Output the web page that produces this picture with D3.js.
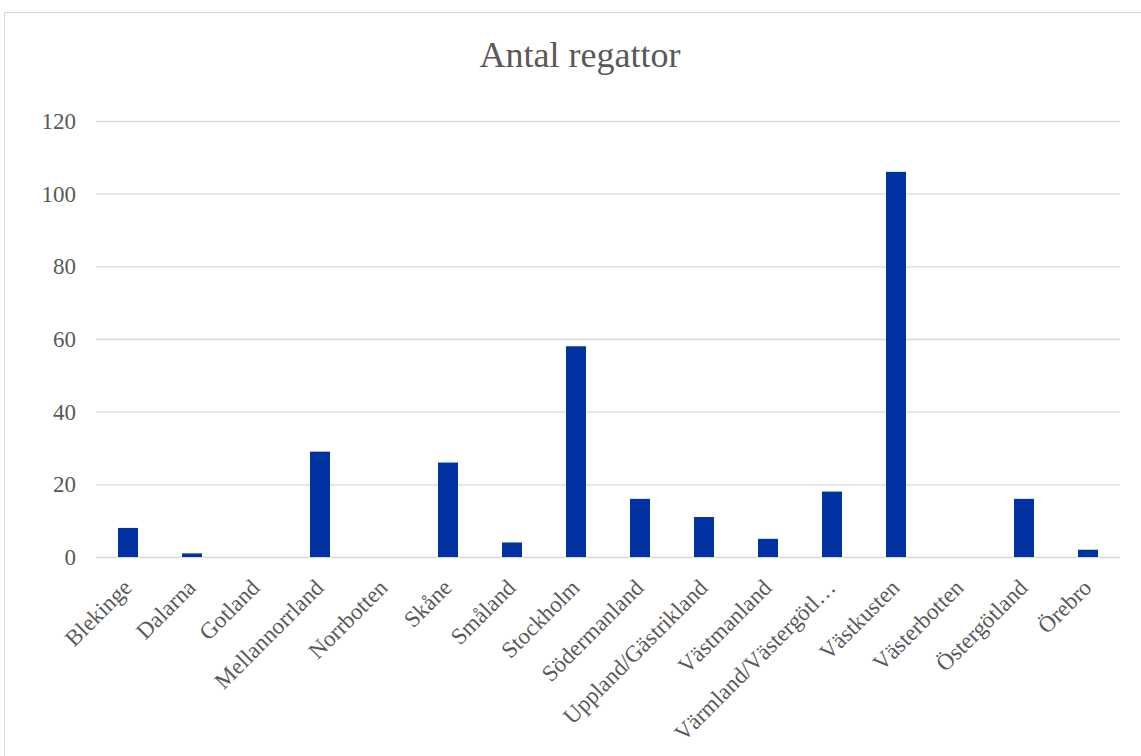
<!DOCTYPE html>
<html>
<head>
<meta charset="utf-8">
<script src="https://cdn.jsdelivr.net/npm/d3@7"></script>
<style>
  html, body { margin: 0; padding: 0; background: #fff; }
  svg { display: block; }
  text { font-family: "Liberation Serif", "Times New Roman", serif; fill: #595959; }
</style>
</head>
<body>
<svg id="chart" width="1141" height="756"></svg>
<script>
// Number of regattas per district
const districts = [
  "Blekinge", "Dalarna", "Gotland", "Mellannorrland", "Norrbotten", "Skåne",
  "Småland", "Stockholm", "Södermanland", "Uppland/Gästrikland", "Västmanland",
  "Värmland/Västergötl…", "Västkusten", "Västerbotten", "Östergötland", "Örebro"
];
const regattas = [8, 1, 0, 29, 0, 26, 4, 58, 16, 11, 5, 18, 106, 0, 16, 2];
const yTicks = [0, 20, 40, 60, 80, 100, 120];
const chartTitle = "Antal regattor";

const svg = d3.select("#chart");
const W = 1141, H = 756;
const margin = { left: 96, right: 21, top: 121, bottom: 199 };
const labelFont = "'Liberation Serif', 'Times New Roman', serif";

// Chart frame
svg.append("rect")
  .attr("x", 4.5).attr("y", 12.5)
  .attr("width", 1160).attr("height", 760)
  .attr("fill", "#fff")
  .attr("stroke", "#d9d9d9").attr("stroke-width", 1);

const x = d3.scaleBand()
  .domain(districts)
  .range([margin.left, W - margin.right])
  .paddingInner(0.6875)
  .paddingOuter(0.34375);

const y = d3.scaleLinear()
  .domain([0, 120])
  .range([H - margin.bottom, margin.top]);

// Horizontal gridlines and value labels
const yAxis = d3.axisLeft(y)
  .tickValues(yTicks)
  .tickSize(-(W - margin.right - margin.left))
  .tickPadding(20)
  .tickFormat(d3.format("d"));

const gy = svg.append("g")
  .attr("transform", `translate(${margin.left},0)`)
  .call(yAxis);
gy.select(".domain").remove();
gy.selectAll(".tick line").attr("stroke", "#d9d9d9").attr("stroke-width", 1.3);
gy.selectAll(".tick text")
  .attr("font-size", 23)
  .attr("fill", "#595959")
  .style("font-family", labelFont);

// Bars
svg.append("g")
  .selectAll("rect")
  .data(districts.map((d, i) => ({ name: d, value: regattas[i] })))
  .join("rect")
  .attr("x", d => x(d.name))
  .attr("y", d => y(d.value))
  .attr("width", x.bandwidth())
  .attr("height", d => y(0) - y(d.value))
  .attr("fill", "#0033A0");

// Category labels, rotated
const xAxis = d3.axisBottom(x).tickSize(0).tickPadding(0);
const gx = svg.append("g")
  .attr("transform", `translate(0,${H - margin.bottom})`)
  .call(xAxis);
gx.select(".domain").remove();
gx.selectAll(".tick text")
  .attr("font-size", 23)
  .attr("fill", "#595959")
  .style("font-family", labelFont)
  .attr("text-anchor", "end")
  .attr("dy", 0)
  .attr("transform", "translate(5,32) rotate(-45)");

// Title
svg.append("text")
  .attr("x", 580)
  .attr("y", 67)
  .attr("text-anchor", "middle")
  .attr("font-size", 36)
  .attr("fill", "#595959")
  .text(chartTitle);
</script>
</body>
</html>
